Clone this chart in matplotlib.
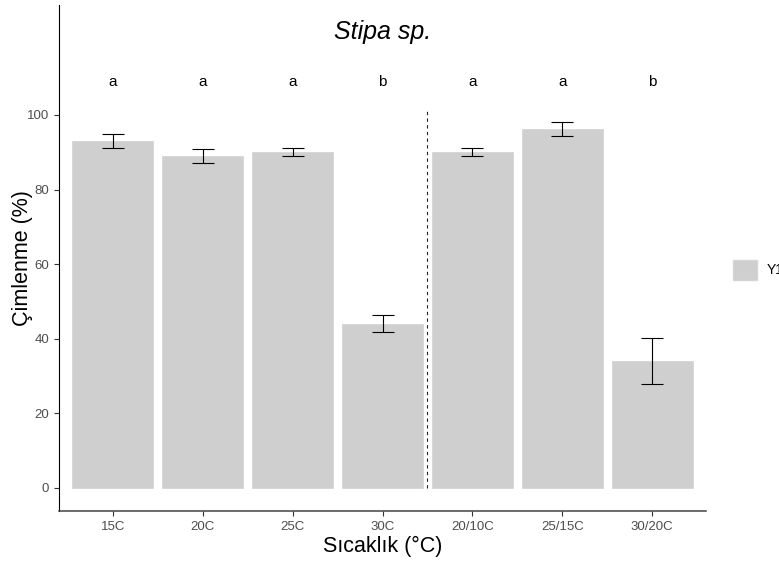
import numpy as np
import matplotlib.pyplot as plt
from matplotlib.patches import Patch

plt.rcParams['font.family'] = ['Liberation Sans', 'DejaVu Sans']

# veriler
sicaklik = ['15C', '20C', '25C', '30C', '20/10C', '25/15C', '30/20C']
cimlenme = [93.0, 89.0, 90.0, 44.0, 90.0, 96.2, 34.0]
hata = [1.9, 1.9, 1.1, 2.3, 1.1, 1.9, 6.2]
harfler = ['a', 'a', 'a', 'b', 'a', 'a', 'b']
harf_y = 108.8
ayrac_x = 4.5
ayrac_ust = 101.5

fig = plt.figure(figsize=(7.79, 5.61), dpi=100)
ax = fig.add_axes([59/779, 50/561, (706-59)/779, (556-50)/561])

x = np.arange(1, len(sicaklik) + 1)
ax.bar(x, cimlenme, width=0.9, color='#cfcfcf', edgecolor='#d6d6d6', linewidth=0.6, zorder=1)
ax.errorbar(x, cimlenme, yerr=hata, fmt='none', ecolor='black', elinewidth=0.8,
            capsize=8, capthick=0.8, zorder=2)

for xi, h in zip(x, harfler):
    ax.text(xi, harf_y, h, ha='center', va='center', fontsize=11, color='black')

ax.vlines(ayrac_x, 0, ayrac_ust, colors='#222222', linestyles=(0, (3, 3)), linewidth=0.8)

ax.set_xlim(0.4, 7.6)
ax.set_ylim(-6.2, 129.5)
ax.set_xticks(x)
ax.set_xticklabels(sicaklik)
ax.set_yticks([0, 20, 40, 60, 80, 100])

for s in ['top', 'right']:
    ax.spines[s].set_visible(False)
ax.spines['left'].set_color('black')
ax.spines['left'].set_linewidth(0.8)
ax.spines['bottom'].set_color('#444444')
ax.spines['bottom'].set_linewidth(1.1)
ax.tick_params(axis='both', colors='#333333', labelcolor='#4d4d4d', labelsize=9.5,
               length=3.5, width=0.8)

ax.set_title('Stipa sp.', fontsize=18, fontstyle='italic', pad=0, y=0.933)
ax.set_xlabel('Sıcaklık (°C)', fontsize=15.5, labelpad=2)
ax.set_ylabel('Çimlenme (%)', fontsize=15.5, labelpad=-4.5)

ax.legend(handles=[Patch(facecolor='#cfcfcf', edgecolor='#d6d6d6', label='Y1')],
          loc='center left', bbox_to_anchor=(733/779, 1 - 270/561),
          bbox_transform=fig.transFigure, frameon=False, fontsize=10,
          handlelength=1.75, handleheight=1.75, handletextpad=0.7,
          borderpad=0, borderaxespad=0)

fig.savefig('out.png', dpi=100)
